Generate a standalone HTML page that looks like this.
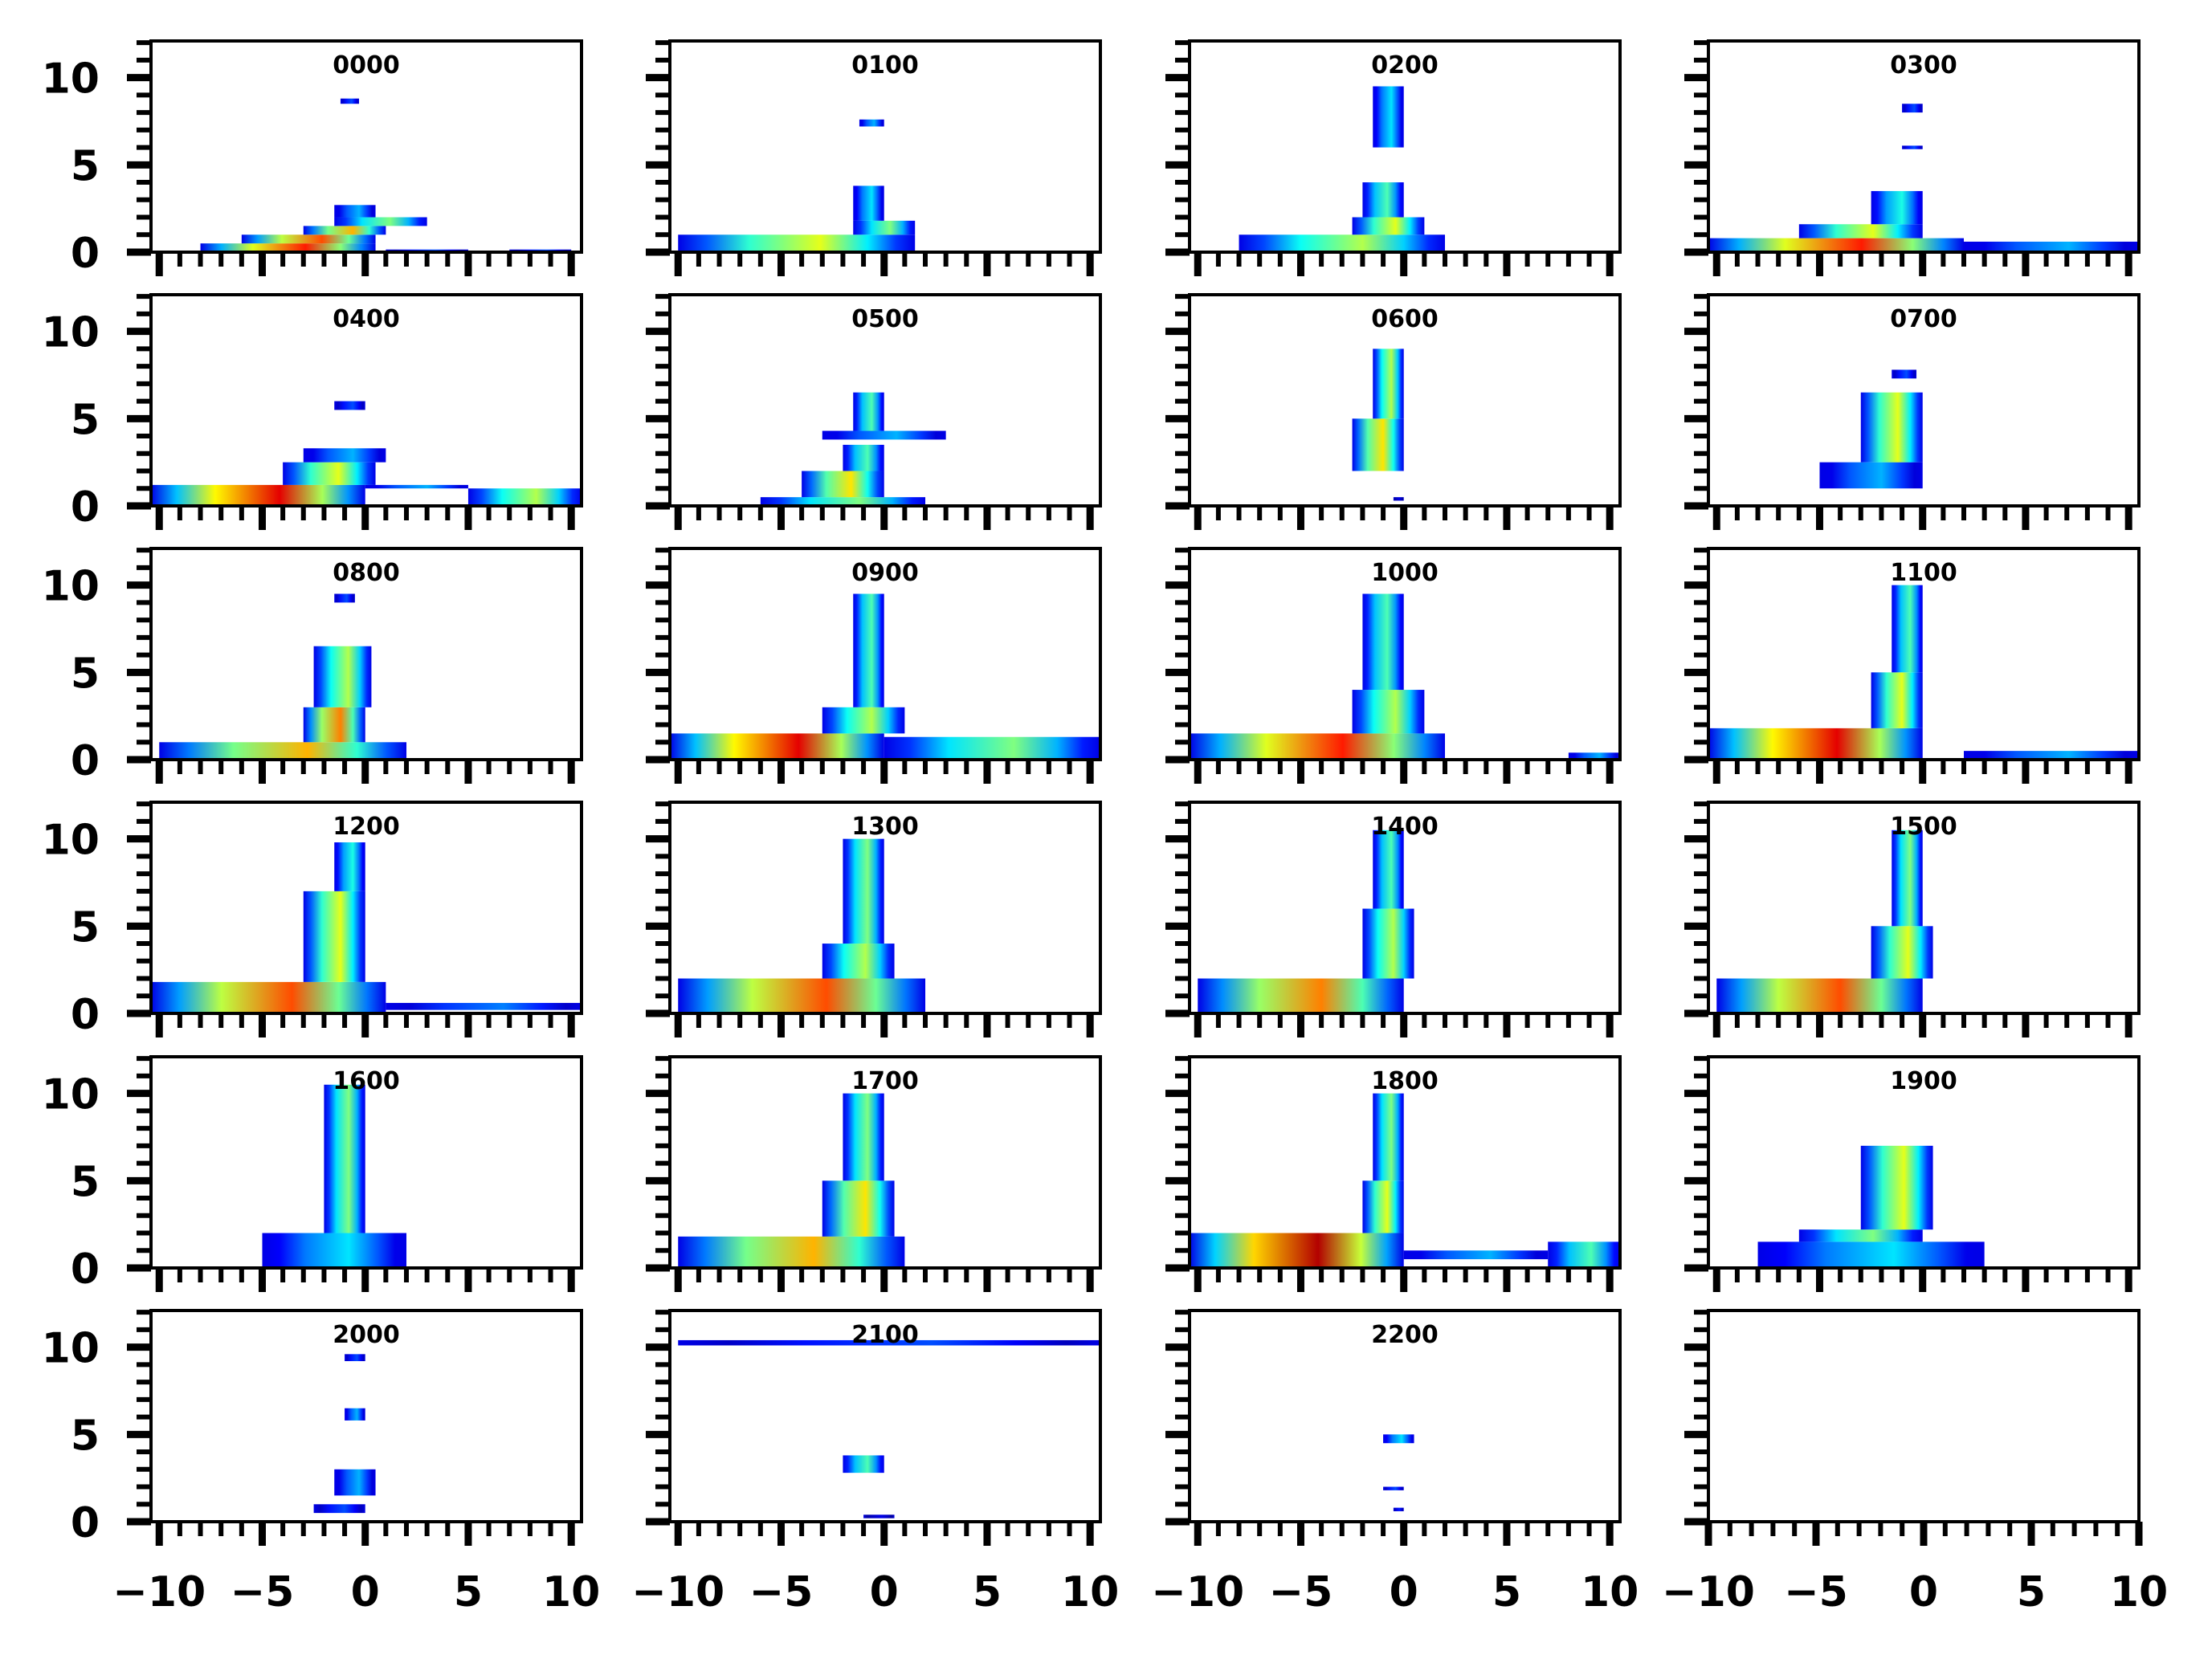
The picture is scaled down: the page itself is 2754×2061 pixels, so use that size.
<!DOCTYPE html>
<html><head><meta charset="utf-8">
<style>
html,body{margin:0;padding:0;background:#fff;}
svg{display:block;font-family:"DejaVu Sans","Liberation Sans",sans-serif;font-weight:bold;}
</style></head>
<body>
<svg id="chart" width="2754" height="2061" viewBox="0 0 2754 2061" xmlns="http://www.w3.org/2000/svg"></svg>
<script>
// Panel titles
const panelTitles = ["0000","0100","0200","0300","0400","0500","0600","0700","0800","0900","1000","1100","1200","1300","1400","1500","1600","1700","1800","1900","2000","2100","2200",""];
// Density bands per panel: [yLow, yHigh, xLeft, xRight, peakIntensity]
const band0000 = [[0,0.5,-8,0.5,0.85],[0.5,1,-6,0.5,0.8],[1,1.5,-3,1,0.7],[1.5,2,-1.5,3,0.5],[2,2.7,-1.5,0.5,0.3],[8.5,8.8,-1.2,-0.3,0.2],[0,0.15,1,5,0.2],[0,0.15,7,10,0.2]];
const band0100 = [[0,1,-10,1.5,0.6],[1,1.8,-1.5,1.5,0.5],[1.8,3.8,-1.5,0,0.35],[7.2,7.6,-1.2,0,0.3]];
const band0200 = [[0,1,-8,2,0.55],[1,2,-2.5,1,0.6],[2,4,-2,0,0.45],[6,9.5,-1.5,0,0.35]];
const band0300 = [[0,0.8,-10.4,2,0.85],[0,0.6,2,10.5,0.3],[0.8,1.6,-6,0,0.6],[1.6,3.5,-2.5,0,0.4],[5.9,6.1,-1,0,0.2],[8,8.5,-1,0,0.2]];
const band0400 = [[0,1.2,-10.4,0,0.9],[0,1,5,10.5,0.55],[1,1.2,0,5,0.3],[1.2,2.5,-4,0.5,0.6],[2.5,3.3,-3,1,0.3],[5.5,6,-1.5,0,0.2]];
const band0500 = [[0,0.5,-6,2,0.5],[0.5,2,-4,0,0.65],[2,3.5,-2,0,0.45],[3.8,4.3,-3,3,0.3],[4.3,6.5,-1.5,0,0.45]];
const band0600 = [[2,5,-2.5,0,0.65],[5,9,-1.5,0,0.55],[0.3,0.5,-0.5,0,0.1]];
const band0700 = [[1,2.5,-5,0,0.3],[2.5,6.5,-3,0,0.6],[7.3,7.8,-1.5,-0.3,0.2]];
const band0800 = [[0,1,-10,2,0.7],[1,3,-3,0,0.75],[3,6.5,-2.5,0.3,0.55],[9,9.5,-1.5,-0.5,0.2]];
const band0900 = [[0,1.5,-10.4,0,0.9],[0,1.3,0,10.5,0.5],[1.5,3,-3,1,0.55],[3,9.5,-1.5,0,0.45]];
const band1000 = [[0,1.5,-10.4,2,0.85],[1.5,4,-2.5,1,0.55],[4,9.5,-2,0,0.45],[0,0.4,8,10.5,0.3]];
const band1100 = [[0,1.8,-10.4,0,0.9],[0,0.5,2,10.5,0.3],[1.8,5,-2.5,0,0.6],[5,10,-1.5,0,0.45]];
const band1200 = [[0,1.8,-10.4,1,0.8],[1.8,7,-3,0,0.6],[7,9.8,-1.5,0,0.4],[0.2,0.6,1,10.5,0.25]];
const band1300 = [[0,2,-10,2,0.8],[2,4,-3,0.5,0.55],[4,10,-2,0,0.5]];
const band1400 = [[0,2,-10,0,0.75],[2,6,-2,0.5,0.55],[6,10.5,-1.5,0,0.45]];
const band1500 = [[0,2,-10,0,0.8],[2,5,-2.5,0.5,0.6],[5,10.5,-1.5,0,0.5]];
const band1600 = [[0,2,-5,2,0.35],[2,10.5,-2,0,0.5]];
const band1700 = [[0,1.8,-10,1,0.7],[1.8,5,-3,0.5,0.65],[5,10,-2,0,0.5]];
const band1800 = [[0,2,-10.4,0,0.95],[0,1.5,7,10.5,0.45],[0.5,1,0,7,0.3],[2,5,-2,0,0.6],[5,10,-1.5,0,0.5]];
const band1900 = [[0,1.5,-8,3,0.35],[1.5,2.2,-6,0,0.5],[2.2,7,-3,0.5,0.6]];
const band2000 = [[0.5,1,-2.5,0,0.2],[1.5,3,-1.5,0.5,0.3],[5.8,6.5,-1,0,0.3],[9.2,9.6,-1,0,0.2]];
const band2100 = [[10.1,10.4,-10,10.5,0.2],[2.8,3.8,-2,0,0.45],[0.2,0.4,-1,0.5,0.1]];
const band2200 = [[4.5,5,-1,0.5,0.35],[1.8,2,-1,0,0.2],[0.6,0.8,-0.5,0,0.15]];
const panelBands = [band0000,band0100,band0200,band0300,band0400,band0500,band0600,band0700,band0800,band0900,band1000,band1100,band1200,band1300,band1400,band1500,band1600,band1700,band1800,band1900,band2000,band2100,band2200,[]];
const xTickLabels = [-10,-5,0,5,10];
const yTickLabels = [0,5,10];

const NS="http://www.w3.org/2000/svg";
const svg=document.getElementById('chart');
function mk(tag,attrs,parent){const e=document.createElementNS(NS,tag);for(const k in attrs)e.setAttribute(k,attrs[k]);(parent||svg).appendChild(e);return e;}
function jet(v){v=Math.max(0,Math.min(1,v));
  const r=Math.max(0,Math.min(1,1.5-Math.abs(4*v-3))),g=Math.max(0,Math.min(1,1.5-Math.abs(4*v-2))),b=Math.max(0,Math.min(1,1.5-Math.abs(4*v-1)));
  return `rgb(${Math.round(r*255)},${Math.round(g*255)},${Math.round(b*255)})`;}
const defs=mk('defs',{});
const colL=[188,834,1481,2127], W=536, rowT=[51,367,683,999,1316,1632], H=263;
let gid=0;
panelTitles.forEach((t,i)=>{
  const c=i%4,r=Math.floor(i/4);
  const L=colL[c],T=rowT[r];
  const last=(i===23);
  const x0=last?-10:-10.4,x1=last?10:10.5,y0=0,y1=12.1;
  const X=v=>L+(v-x0)/(x1-x0)*W, Y=v=>T+H-(v-y0)/(y1-y0)*H;
  const g=mk('g',{});
  
  
  panelBands[i].forEach(b=>{
    const id='gr'+(gid++);
    const lg=mk('linearGradient',{id:id,x1:'0',x2:'1',y1:'0',y2:'0'},defs);
    const pk=b[4];
    [[0,0.1],[0.12,pk*0.35],[0.3,pk*0.7],[0.6,pk],[0.8,pk*0.6],[0.92,pk*0.3],[1,0.1]].forEach(s=>mk('stop',{offset:s[0],'stop-color':jet(s[1])},lg));
    const rc=mk('rect',{x:X(b[2]),y:Y(b[1]),width:X(b[3])-X(b[2]),height:Y(b[0])-Y(b[1]),fill:`url(#${id})`},g);
    
    
  });
  const fr=mk('rect',{x:L,y:T,width:W,height:H,fill:'none',stroke:'#000','stroke-width':4},g);
  
  
  if(t){const tt=mk('text',{x:L+W/2,y:T+40,'text-anchor':'middle','font-size':30},g);tt.textContent=t;
    
    }
  for(let v=-10;v<=10;v++){const maj=v%5===0;
    mk('line',{x1:X(v),x2:X(v),y1:T+H,y2:T+H+(maj?30:18),stroke:'#000','stroke-width':maj?9:6},g);}
  for(let v=0;v<=12;v++){const maj=v%5===0;
    mk('line',{x1:L,x2:L-(maj?30:18),y1:Y(v),y2:Y(v),stroke:'#000','stroke-width':maj?9:6},g);}
  if(r===5){xTickLabels.forEach(v=>{const tx=mk('text',{x:X(v),y:2000,'text-anchor':'middle','font-size':52},g);tx.textContent=v<0?'\u2212'+Math.abs(v):String(v);
    
    });}
  if(c===0){yTickLabels.forEach(v=>{const ty=mk('text',{x:124,y:Y(v)+19,'text-anchor':'end','font-size':52},g);ty.textContent=String(v);
    
    });}
});
</script>
</body></html>
